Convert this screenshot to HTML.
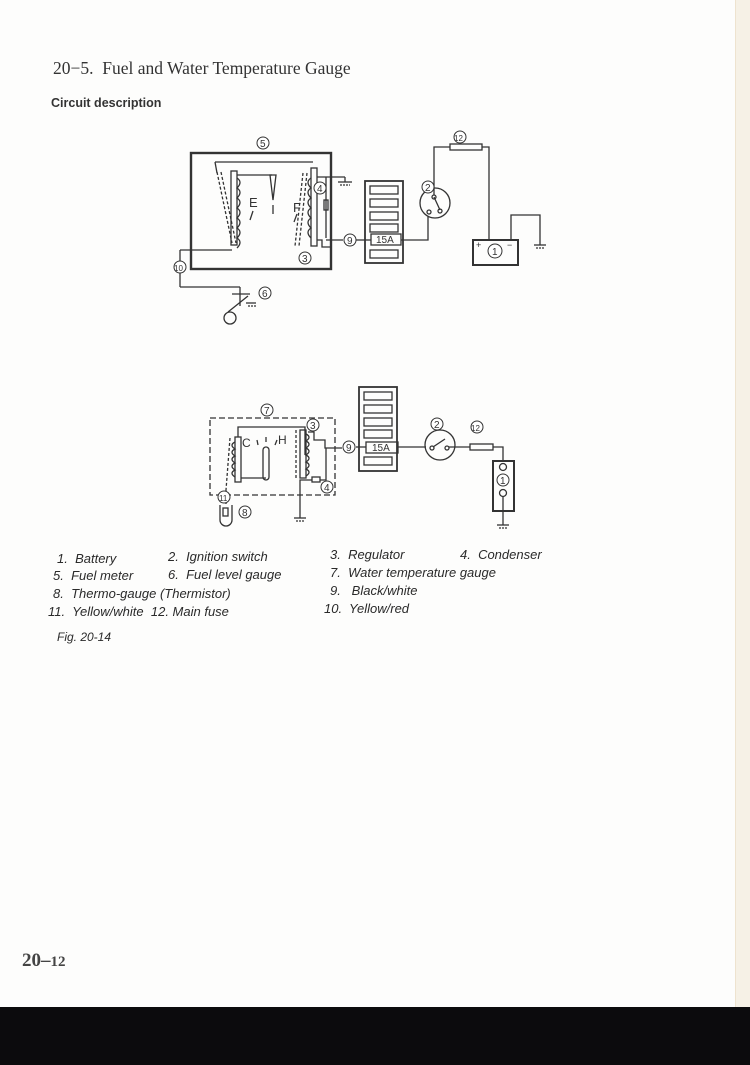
<!DOCTYPE html>
<html><head><meta charset="utf-8"><style>
html,body{margin:0;padding:0}
body{width:750px;height:1065px;position:relative;background:#fdfdfc;overflow:hidden;font-family:"Liberation Sans",sans-serif;color:#333}
.t{position:absolute;white-space:nowrap}
.lg{font-style:italic;font-size:13px;color:#2a2a2a}
</style></head><body>
<div style="position:absolute;right:0;top:0;width:14px;height:1010px;background:#f6f1e6;border-left:1px solid #eee3cf"></div>
<div style="position:absolute;left:0;top:1007px;width:750px;height:58px;background:#0c0b0d"></div>
<div class="t" style="left:53px;top:58px;font-family:'Liberation Serif',serif;font-size:17.5px;color:#333">20−5.&nbsp; Fuel and Water Temperature Gauge</div>
<div class="t" style="left:51px;top:96px;font-weight:bold;font-size:12.5px;color:#333">Circuit description</div>
<div class="t" style="left:22px;top:950px;font-family:'Liberation Serif',serif;font-size:19px;font-weight:bold;color:#444">20–<span style="font-size:15px">12</span></div>

<svg width="750" height="1065" style="position:absolute;left:0;top:0" fill="none" stroke="#333" stroke-width="1.3" font-family="Liberation Sans" font-size="9">
<g id="d1">
<rect x="191" y="153" width="140" height="116" stroke-width="2.4"/>
<line x1="215" y1="162" x2="313" y2="162"/>
<line x1="215" y1="162" x2="217" y2="173"/>
<rect x="231" y="171" width="6" height="74"/>
<path d="M237 178 q6 4 0 10 q6 4 0 10 q6 4 0 10 q6 4 0 10 q6 4 0 10 q6 4 0 10 q6 4 0 10"/>
<path d="M217 172 L232 243" stroke-dasharray="3,2"/><path d="M221 172 L236 243" stroke-dasharray="3,2"/>
<line x1="237" y1="175" x2="272" y2="175"/>
<path d="M270 175 L276 175 L273 200 Z"/>
<line x1="273" y1="205" x2="273" y2="214"/>
<text x="249" y="207" font-size="13" stroke="none" fill="#333">E</text>
<line x1="253" y1="211" x2="250" y2="220"/>
<text x="293" y="212" font-size="13" stroke="none" fill="#333">F</text>
<line x1="297" y1="214" x2="294" y2="222"/>
<rect x="311" y="168" width="6" height="78"/>
<path d="M311 178 q-6 4 0 10 q-6 4 0 10 q-6 4 0 10 q-6 4 0 10 q-6 4 0 10 q-6 4 0 10"/>
<path d="M303 173 L295 246" stroke-dasharray="3,2"/><path d="M307 173 L299 246" stroke-dasharray="3,2"/>
<line x1="317" y1="177" x2="345" y2="177"/><line x1="345" y1="177" x2="345" y2="182"/>
<line x1="338" y1="182" x2="352" y2="182"/><line x1="340" y1="185" x2="350" y2="185" stroke-dasharray="2,1"/>
<line x1="326" y1="177" x2="326" y2="238"/><rect x="324" y="200" width="4" height="10"/>
<path d="M317 240 L322 240 L322 247 L331 247"/>
<line x1="326" y1="240" x2="343" y2="240"/>
<line x1="180" y1="250" x2="232" y2="250"/>
<line x1="180" y1="250" x2="180" y2="287"/><line x1="180" y1="287" x2="240" y2="287"/>
<line x1="240" y1="287" x2="240" y2="306"/>
<line x1="232" y1="294" x2="250" y2="294"/><line x1="228" y1="312" x2="248" y2="296"/>
<circle cx="230" cy="318" r="6"/>
<line x1="246" y1="303" x2="256" y2="303"/><line x1="248" y1="306" x2="256" y2="306" stroke-dasharray="2,1"/>
<rect x="365" y="181" width="38" height="82" stroke-width="1.8"/>
<rect x="370" y="186" width="28" height="8"/><rect x="370" y="199" width="28" height="8"/><rect x="370" y="212" width="28" height="8"/><rect x="370" y="224" width="28" height="8"/>
<rect x="371" y="234" width="30" height="11"/><rect x="370" y="250" width="28" height="8"/>
<text x="376" y="243" font-size="10" stroke="none" fill="#333">15A</text>
<line x1="356" y1="240" x2="371" y2="240"/>
<path d="M401 240 L428 240 L428 216"/>
<circle cx="435" cy="203" r="15"/>
<circle cx="429" cy="212" r="2"/><line x1="434" y1="197" x2="440" y2="210"/><circle cx="440" cy="211" r="2"/><circle cx="434" cy="197" r="2"/>
<path d="M434 195 L434 147 L450 147"/><rect x="450" y="144" width="32" height="6"/>
<path d="M482 147 L489 147 L489 240"/>
<rect x="473" y="240" width="45" height="25" stroke-width="2"/>
<text x="476" y="248" stroke="none" fill="#333">+</text><text x="507" y="248" stroke="none" fill="#333">−</text>
<path d="M511 240 L511 215 L540 215 L540 245"/><line x1="534" y1="245" x2="546" y2="245"/><line x1="536" y1="248" x2="544" y2="248" stroke-dasharray="2,1"/>
</g>
<g id="d2">
<rect x="210" y="418" width="125" height="77" stroke-dasharray="6,3"/>
<path d="M238 437 L238 427 L305 427 L305 455"/>
<rect x="235" y="437" width="6" height="45"/>
<path d="M235 442 q-6 3 0 7 q-6 3 0 7 q-6 3 0 7 q-6 3 0 7 q-6 3 0 7"/>
<path d="M230 438 L226 490" stroke-dasharray="3,2"/>
<line x1="241" y1="478" x2="266" y2="478"/>
<rect x="263" y="447" width="6" height="33" rx="3"/>
<text x="242" y="447" font-size="12" stroke="none" fill="#333">C</text><text x="278" y="444" font-size="12" stroke="none" fill="#333">H</text>
<line x1="257" y1="440" x2="258" y2="445"/><line x1="266" y1="437" x2="266" y2="442"/><line x1="277" y1="440" x2="275" y2="445"/>
<rect x="300" y="430" width="6" height="48"/>
<path d="M306 434 q6 3 0 7 q6 3 0 7 q6 3 0 7 q6 3 0 7 q6 3 0 7 q6 3 0 7"/>
<path d="M296 430 L296 478" stroke-dasharray="3,2"/>
<path d="M308 432 L314 432 L314 440 L325 440 L325 448 L342 448"/>
<path d="M326 448 L326 480 L320 480"/><rect x="312" y="477" width="8" height="5"/>
<path d="M312 480 L300 480 L300 518"/><line x1="294" y1="518" x2="306" y2="518"/><line x1="296" y1="521" x2="304" y2="521" stroke-dasharray="2,1"/>
<path d="M226 490 L226 504"/>
<path d="M220 505 L220 520 a6 6 0 0 0 12 0 L232 505"/>
<rect x="223" y="508" width="5" height="8"/>
<rect x="359" y="387" width="38" height="84" stroke-width="1.8"/>
<rect x="364" y="392" width="28" height="8"/><rect x="364" y="405" width="28" height="8"/><rect x="364" y="418" width="28" height="8"/><rect x="364" y="430" width="28" height="8"/>
<rect x="366" y="442" width="32" height="11"/><rect x="364" y="457" width="28" height="8"/>
<text x="372" y="451" font-size="10" stroke="none" fill="#333">15A</text>
<line x1="356" y1="447" x2="366" y2="447"/>
<line x1="398" y1="447" x2="426" y2="447"/>
<circle cx="440" cy="445" r="15"/>
<circle cx="432" cy="448" r="2"/><line x1="433" y1="447" x2="445" y2="439"/><circle cx="447" cy="448" r="2"/>
<line x1="449" y1="447" x2="470" y2="447"/><rect x="470" y="444" width="23" height="6"/>
<path d="M493 447 L503 447 L503 462"/>
<rect x="493" y="461" width="21" height="50" stroke-width="2"/>
<circle cx="503" cy="467" r="3.5"/><circle cx="503" cy="493" r="3.5"/>
<path d="M503 497 L503 525"/><line x1="497" y1="525" x2="509" y2="525"/><line x1="499" y1="528" x2="507" y2="528" stroke-dasharray="2,1"/>
</g>
<g stroke-width="1" font-size="10" fill="#fff">
<g><circle cx="263" cy="143" r="6"/><text x="260" y="147" stroke="none" fill="#333">5</text></g>
<g><circle cx="460" cy="137" r="6"/><text x="454" y="141" stroke="none" fill="#333" font-size="8">12</text></g>
<g><circle cx="428" cy="187" r="6"/><text x="425" y="191" stroke="none" fill="#333">2</text></g>
<g><circle cx="320" cy="188" r="6"/><text x="317" y="192" stroke="none" fill="#333">4</text></g>
<g><circle cx="350" cy="240" r="6"/><text x="347" y="244" stroke="none" fill="#333">9</text></g>
<g><circle cx="305" cy="258" r="6"/><text x="302" y="262" stroke="none" fill="#333">3</text></g>
<g><circle cx="495" cy="251" r="7"/><text x="492" y="255" stroke="none" fill="#333">1</text></g>
<g><circle cx="180" cy="267" r="6"/><text x="174" y="271" stroke="none" fill="#333" font-size="8">10</text></g>
<g><circle cx="265" cy="293" r="6"/><text x="262" y="297" stroke="none" fill="#333">6</text></g>
<g><circle cx="267" cy="410" r="6"/><text x="264" y="414" stroke="none" fill="#333">7</text></g>
<g><circle cx="313" cy="425" r="6"/><text x="310" y="429" stroke="none" fill="#333">3</text></g>
<g><circle cx="349" cy="447" r="6"/><text x="346" y="451" stroke="none" fill="#333">9</text></g>
<g><circle cx="437" cy="424" r="6"/><text x="434" y="428" stroke="none" fill="#333">2</text></g>
<g><circle cx="477" cy="427" r="6"/><text x="471" y="431" stroke="none" fill="#333" font-size="8">12</text></g>
<g><circle cx="327" cy="487" r="6"/><text x="324" y="491" stroke="none" fill="#333">4</text></g>
<g><circle cx="224" cy="497" r="6"/><text x="219" y="501" stroke="none" fill="#333" font-size="8">11</text></g>
<g><circle cx="245" cy="512" r="6"/><text x="242" y="516" stroke="none" fill="#333">8</text></g>
<g><circle cx="503" cy="480" r="6"/><text x="500" y="484" stroke="none" fill="#333">1</text></g>
</g>
</svg>

<div class="t lg" style="left:57px;top:551px">1.&nbsp; Battery</div>
<div class="t lg" style="left:168px;top:549px">2.&nbsp; Ignition switch</div>
<div class="t lg" style="left:330px;top:547px">3.&nbsp; Regulator</div>
<div class="t lg" style="left:460px;top:547px">4.&nbsp; Condenser</div>
<div class="t lg" style="left:53px;top:568px">5.&nbsp; Fuel meter</div>
<div class="t lg" style="left:168px;top:567px">6.&nbsp; Fuel level gauge</div>
<div class="t lg" style="left:330px;top:565px">7.&nbsp; Water temperature gauge</div>
<div class="t lg" style="left:53px;top:586px">8.&nbsp; Thermo-gauge (Thermistor)</div>
<div class="t lg" style="left:330px;top:583px">9.&nbsp;&nbsp; Black/white</div>
<div class="t lg" style="left:48px;top:604px">11.&nbsp; Yellow/white&nbsp; 12. Main fuse</div>
<div class="t lg" style="left:324px;top:601px">10.&nbsp; Yellow/red</div>
<div class="t lg" style="left:57px;top:630px;font-size:12px">Fig. 20-14</div>
</body></html>
